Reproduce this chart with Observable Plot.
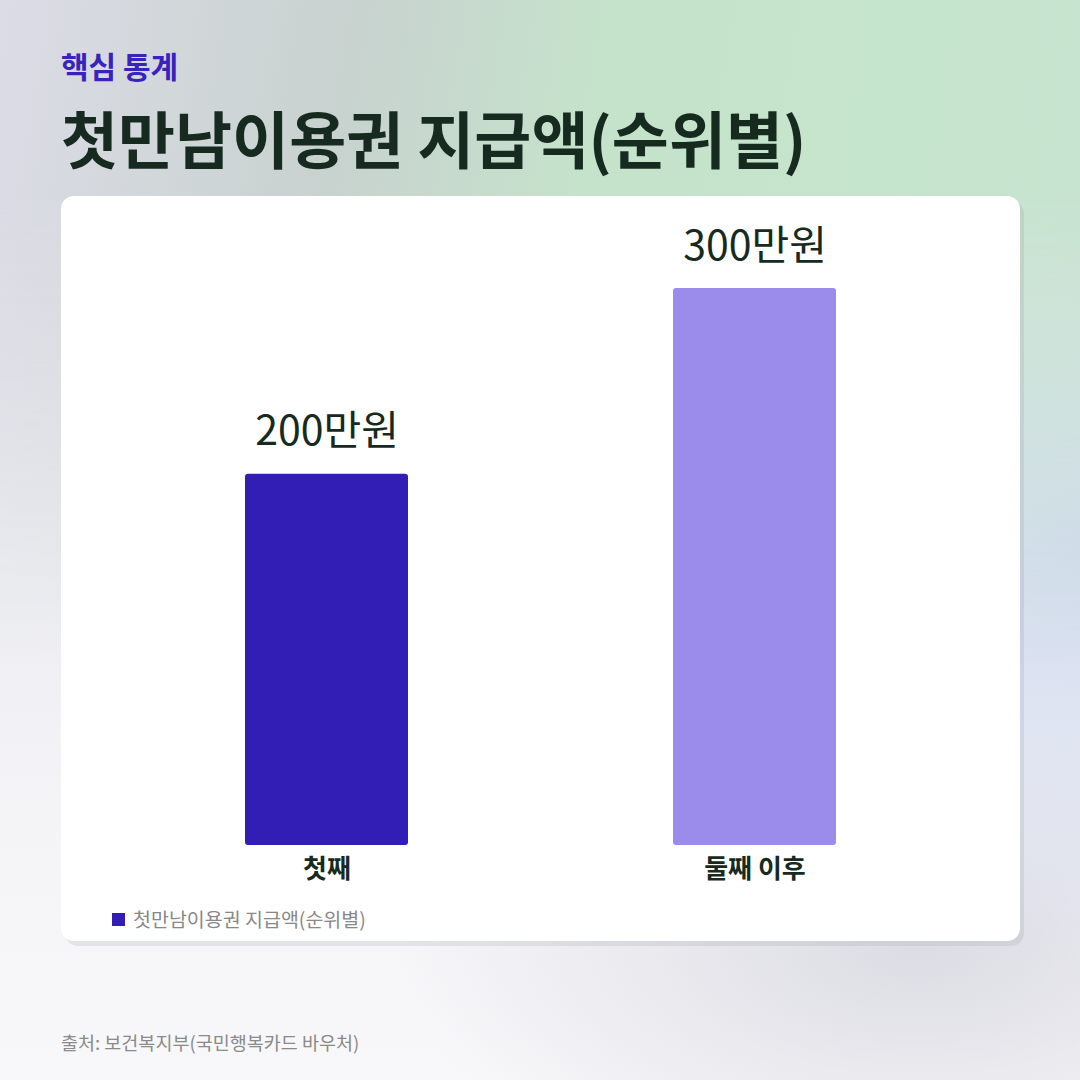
<!DOCTYPE html>
<html><head><meta charset="utf-8">
<script src="https://cdn.jsdelivr.net/npm/d3@7"></script>
<script src="https://cdn.jsdelivr.net/npm/@observablehq/plot@0.6"></script>
<style>
html,body{margin:0;padding:0;}
body{width:1080px;height:1080px;position:relative;overflow:hidden;font-family:"Noto Sans CJK KR","Noto Sans",sans-serif;
background:
 radial-gradient(ellipse 520px 420px at 100% 50%, rgba(210,219,240,1) 0%, rgba(210,219,240,0) 100%),
 radial-gradient(ellipse 520px 260px at 85% 88%, rgba(220,220,228,1) 0%, rgba(220,220,228,0) 100%),
 linear-gradient(to bottom, #e4e4ea 0%, #ececf1 45%, #f4f4f7 75%, #f8f8fa 100%);}
#bgtop{position:absolute;left:0;top:0;width:1080px;height:1080px;
 background:linear-gradient(100deg, #dcdce6 0%, #c8d2cf 28%, #c5e2cb 48%, #c5e5cc 70%, #c8e2d2 100%);
 -webkit-mask-image:linear-gradient(to bottom, #000 0%, #000 18%, rgba(0,0,0,0.5) 40%, transparent 62%);
 mask-image:linear-gradient(to bottom, #000 0%, #000 18%, rgba(0,0,0,0.5) 40%, transparent 62%);}
#kicker{position:absolute;left:61px;top:44px;font-size:30px;font-weight:700;color:#3a23bd;line-height:42px;}
#title{position:absolute;left:61px;top:93px;font-size:62px;font-weight:700;color:#172a20;line-height:88px;}
#card{position:absolute;left:61px;top:196px;width:959px;height:745px;background:#fff;border-radius:13px;box-shadow:4px 5px 0 rgba(120,125,140,0.15);}
#chart{position:absolute;left:0;top:0;}
#legend{position:absolute;left:51px;top:709px;display:flex;align-items:center;font-size:19.5px;color:#888;line-height:28px;}
#legend .sw{width:13px;height:13px;background:#321db5;margin-right:8px;}
#caption{position:absolute;left:61px;top:1028px;font-size:18.5px;color:#8a8a8a;line-height:28px;}
</style></head>
<body>
<div id="bgtop"></div>
<div id="kicker">핵심 통계</div>
<div id="title">첫만남이용권 지급액(순위별)</div>
<div id="card"><div id="chart"></div>
<div id="legend"><span class="sw"></span><span>첫만남이용권 지급액(순위별)</span></div></div>
<div id="caption">출처: 보건복지부(국민행복카드 바우처)</div>
<script>
const categories = ["첫째", "둘째 이후"];
const values = [200, 300];
const valueLabels = ["200만원", "300만원"];
const colors = ["#321db5", "#9b8cec"];

const data = categories.map((c, i) => ({cat: c, value: values[i], label: valueLabels[i], color: colors[i]}));

const chart = Plot.plot({
  width: 959,
  height: 700,
  marginTop: 92,
  marginBottom: 51,
  marginLeft: 51.5,
  marginRight: 51.5,
  style: {fontFamily: '"Noto Sans CJK KR","Noto Sans",sans-serif', background: "transparent", color: "#172a20"},
  x: {domain: categories, paddingInner: 0.619, paddingOuter: 0.3095, align: 0.5},
  y: {domain: [0, 300], axis: null},
  marks: [
    Plot.barY(data, {x: "cat", y: "value", fill: "color", rx: 3}),
    Plot.text(data, {x: "cat", y: "value", text: "label", dy: -42, fontSize: 41, fill: "#172a20"}),
    Plot.axisX({tickSize: 0, tickPadding: 14, fontSize: 26, fontWeight: 700, fill: "#172a20", label: null})
  ]
});
document.getElementById("chart").appendChild(chart);
</script>
</body></html>
